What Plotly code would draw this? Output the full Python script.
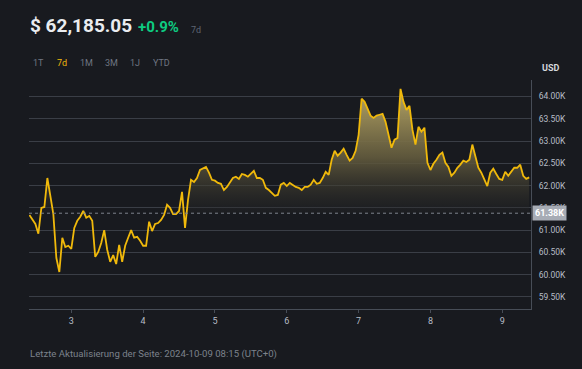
import plotly.graph_objects as go
import pandas as pd

# ---- data ----
start_time = "2024-10-02 10:00"
prices = [
    61340, 61250, 61140, 60920, 61500, 61520, 62170, 61770, 61360, 60380,
    60060, 60830, 60620, 60650, 60580, 61050, 61210, 61300, 61430, 61280,
    61320, 61210, 60400, 60510, 60710, 61000, 60560, 60290, 60440, 60240,
    60670, 60290, 60650, 60830, 61000, 60830, 60850, 60760, 60650, 60650,
    61190, 60980, 61140, 61160, 61230, 61340, 61570, 61500, 61360, 61360,
    61430, 61860, 61050, 61680, 62130, 62080, 62170, 62350, 62380, 62420,
    62290, 62130, 62110, 62060, 62040, 61900, 61970, 62060, 62170, 62200,
    62150, 62260, 62240, 62200, 62260, 62330, 62170, 62170, 62130, 61950,
    61900, 61840, 61770, 61790, 62020, 62060, 61990, 62060, 62020, 61970,
    61950, 61900, 61970, 61970, 62020, 62130, 62040, 62060, 62170, 62310,
    62240, 62580, 62780, 62670, 62740, 62830, 62690, 62560, 62620, 62780,
    63140, 63950, 63880, 63720, 63570, 63520, 63570, 63590, 63610, 63430,
    63160, 62850, 63030, 63070, 64170, 63880, 63700, 63790, 63250, 62920,
    63320, 63210, 63300, 62510, 62350, 62490, 62580, 62690, 62740, 62510,
    62420, 62220, 62290, 62400, 62470, 62560, 62530, 62580, 62920, 62690,
    62400, 62290, 62130, 61990, 62290, 62380, 62260, 62150, 62130, 62310,
    62220, 62310, 62400, 62400, 62470, 62220, 62150, 62185.05,
]
times = pd.date_range(start_time, periods=len(prices), freq="h")
base_price = 61380
y_tick_vals = [59500, 60000, 60500, 61000, 61500, 62000, 62500, 63000, 63500, 64000]
y_tick_text = ["59.50K", "60.00K", "60.50K", "61.00K", "61.50K",
               "62.00K", "62.50K", "63.00K", "63.50K", "64.00K"]
x_tick_vals = pd.date_range("2024-10-03", "2024-10-09", freq="D")
x_tick_text = ["3", "4", "5", "6", "7", "8", "9"]
range_buttons = ["1T", "7d", "1M", "3M", "1J", "YTD"]
headline_price = "$ 62,185.05"
headline_change = "+0.9%"
footer = "Letzte Aktualisierung der Seite: 2024-10-09 08:15 (UTC+0)"

# ---- styles ----
BG = "#181a1f"
GOLD = "#f0b90b"
GRID = "#3a3e46"
FONT = "Roboto"
W, H = 582, 369
ML, MR, MT, MB = 29, 51, 80, 60
PW, PH = W - ML - MR, H - MT - MB


def px(x):
    return (x - ML) / PW


def py(y):
    return (H - MB - y) / PH


above = [max(p, base_price) for p in prices]

fig = go.Figure()
fig.add_trace(go.Scatter(x=times, y=[base_price] * len(prices), mode="lines",
                         line=dict(width=0), hoverinfo="skip", showlegend=False))
fig.add_trace(go.Scatter(
    x=times, y=above, mode="lines", line=dict(width=0), fill="tonexty",
    fillgradient=dict(type="vertical", start=base_price, stop=max(prices),
                      colorscale=[[0, "rgba(34,35,37,0.3)"],
                                  [0.45, "rgba(100,92,62,0.9)"],
                                  [1, "rgba(184,167,102,1)"]]),
    hoverinfo="skip", showlegend=False))
fig.add_trace(go.Scatter(x=times, y=prices, mode="lines",
                         line=dict(color=GOLD, width=1.8), showlegend=False))

fig.add_shape(type="line", xref="paper", x0=0, x1=1, yref="y", y0=base_price, y1=base_price,
              line=dict(color="#7d838d", width=1, dash="dot"))

fig.add_annotation(xref="paper", x=1, xanchor="left", xshift=1, yref="y", y=base_price,
                   text="<b>61.38K</b>", showarrow=False, bgcolor="#a7acb5",
                   font=dict(family=FONT, size=9, color="#ffffff"), borderpad=2)

# header
fig.add_annotation(xref="paper", yref="paper", x=px(28), y=py(26), xanchor="left", yanchor="middle",
                   text="<b>" + headline_price + "</b>", showarrow=False,
                   font=dict(family=FONT, size=19, color="#eaecef"))
fig.add_annotation(xref="paper", yref="paper", x=px(136), y=py(27), xanchor="left", yanchor="middle",
                   text="<b>" + headline_change + "</b>", showarrow=False,
                   font=dict(family=FONT, size=15, color="#0ecb81"))
fig.add_annotation(xref="paper", yref="paper", x=px(189), y=py(30), xanchor="left", yanchor="middle",
                   text="7d", showarrow=False, font=dict(family=FONT, size=9, color="#5e6673"))
btn_x = [38, 62, 86, 111, 135, 161]
for lbl, bx in zip(range_buttons, btn_x):
    fig.add_annotation(xref="paper", yref="paper", x=px(bx), y=py(63), xanchor="center", yanchor="middle",
                       text=lbl, showarrow=False,
                       font=dict(family=FONT, size=9, color=GOLD if lbl == "7d" else "#6f7682"))
fig.add_annotation(xref="paper", yref="paper", x=px(550), y=py(68), xanchor="center", yanchor="middle",
                   text="<b>USD</b>", showarrow=False, font=dict(family=FONT, size=9, color="#d5d8dc"))
fig.add_annotation(xref="paper", yref="paper", x=px(28), y=py(354), xanchor="left", yanchor="middle",
                   text=footer, showarrow=False, font=dict(family=FONT, size=9.6, color="#7c828c"))

fig.update_layout(
    width=W, height=H, margin=dict(l=ML, r=MR, t=MT, b=MB),
    paper_bgcolor=BG, plot_bgcolor=BG, hovermode=False,
    font=dict(family=FONT, color="#b7bdc6", size=9),
    xaxis=dict(range=["2024-10-02 09:52", "2024-10-09 09:36"], tickvals=x_tick_vals,
               ticktext=x_tick_text, showgrid=False, showline=True, linecolor="#474d57",
               ticks="outside", ticklen=3, tickcolor="#474d57", zeroline=False,
               tickfont=dict(size=9, color="#b7bdc6")),
    yaxis=dict(range=[59230, 64370], side="right", tickvals=y_tick_vals, ticktext=y_tick_text,
               showgrid=True, gridcolor=GRID, gridwidth=1, showline=True, linecolor="#474d57",
               ticks="outside", ticklen=5, tickcolor="rgba(0,0,0,0)", zeroline=False,
               tickfont=dict(size=8.5, color="#b7bdc6")),
)

fig.write_html("out.html", config={"displayModeBar": False},
               post_script="document.body.style.margin='0';document.body.style.background='#181a1f';")
